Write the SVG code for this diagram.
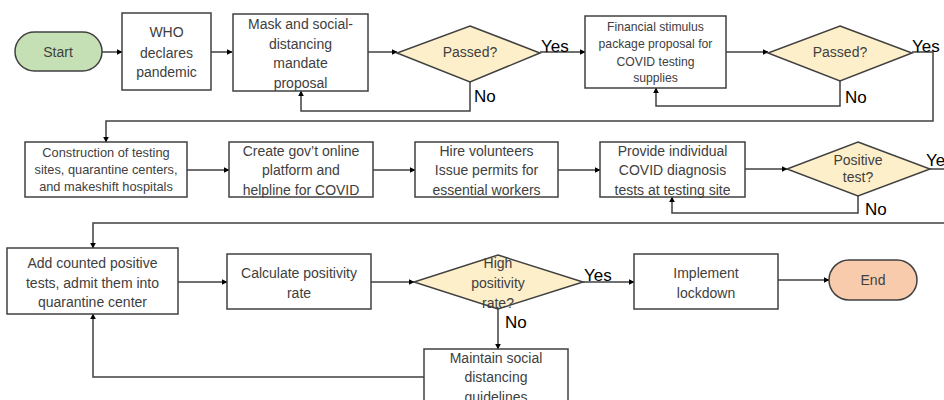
<svg xmlns="http://www.w3.org/2000/svg" width="944" height="400" viewBox="0 0 944 400">
  <defs>
    <marker id="arrow" viewBox="0 0 10 10" refX="9" refY="5" markerWidth="6" markerHeight="6" markerUnits="userSpaceOnUse" orient="auto">
      <path d="M0,0 L10,5 L0,10 z" fill="#000"/>
    </marker>
    <style>
      .box { fill: #ffffff; stroke: #404040; stroke-width: 1.5; }
      .dec { fill: #fdefc9; stroke: #404040; stroke-width: 1.5; }
      .start { fill: #c5e0b4; stroke: #404040; stroke-width: 1.5; }
      .end { fill: #f8cbad; stroke: #404040; stroke-width: 1.5; }
      .t { font-family: "Liberation Sans", Arial, sans-serif; font-size: 14px; fill: #404040; text-anchor: middle; }
      .s { font-size: 12.2px; }
      .s2 { font-size: 12.8px; }
      .lbl { font-family: "Liberation Sans", Arial, sans-serif; font-size: 17px; fill: #000; }
      .c { fill: none; stroke: #404040; stroke-width: 1.5; }
      .ca { fill: none; stroke: #404040; stroke-width: 1.5; marker-end: url(#arrow); }
    </style>
  </defs>

  <!-- connectors -->
  <g id="connectors">
    <line class="ca" x1="102" y1="52" x2="122" y2="52"/>
    <line class="ca" x1="211" y1="52" x2="232" y2="52"/>
    <line class="ca" x1="368" y1="52" x2="397" y2="52"/>
    <polyline class="ca" points="470,82 470,111 301,111 301,91"/>
    <line class="ca" x1="540" y1="52" x2="585" y2="52"/>
    <line class="ca" x1="726" y1="52" x2="768" y2="52"/>
    <polyline class="ca" points="840,81 840,106 656,106 656,88"/>
    <polyline class="ca" points="912,52 933,52 933,121 106,121 106,142"/>

    <line class="ca" x1="187" y1="170" x2="229" y2="170"/>
    <line class="ca" x1="373" y1="170" x2="415" y2="170"/>
    <line class="ca" x1="558" y1="170" x2="600" y2="170"/>
    <line class="ca" x1="745" y1="169" x2="787" y2="169"/>
    <polyline class="ca" points="858,196 858,213 672,213 672,197"/>
    <line class="c" x1="930" y1="169" x2="944" y2="169"/>
    <polyline class="ca" points="944,223 93,223 93,248"/>

    <line class="ca" x1="178" y1="282" x2="227" y2="282"/>
    <line class="ca" x1="371" y1="282" x2="414" y2="282"/>
    <line class="ca" x1="583" y1="282" x2="634" y2="282"/>
    <line class="ca" x1="778" y1="280" x2="829" y2="280"/>
    <line class="ca" x1="498" y1="309" x2="498" y2="349"/>
    <polyline class="ca" points="424,377 93,377 93,314"/>
  </g>

  <!-- branch labels -->
  <g id="labels">
    <text class="lbl" x="541" y="52">Yes</text>
    <text class="lbl" x="474" y="102">No</text>
    <text class="lbl" x="912" y="52">Yes</text>
    <text class="lbl" x="845" y="103">No</text>
    <text class="lbl" x="926" y="166">Yes</text>
    <text class="lbl" x="865" y="215">No</text>
    <text class="lbl" x="584" y="281">Yes</text>
    <text class="lbl" x="505" y="328">No</text>
  </g>

  <g id="start">
    <rect class="start" x="15" y="32" width="87" height="39" rx="19.5"/>
    <text class="t" x="58" y="57">Start</text>
  </g>

  <g id="who">
    <rect class="box" x="122" y="13" width="89" height="77"/>
    <text class="t" x="166.5" y="37">WHO</text>
    <text class="t" x="166.5" y="57.5">declares</text>
    <text class="t" x="166.5" y="77">pandemic</text>
  </g>

  <g id="mask">
    <rect class="box" x="233" y="14" width="135" height="77"/>
    <text class="t" x="300.5" y="29">Mask and social-</text>
    <text class="t" x="300.5" y="48.5">distancing</text>
    <text class="t" x="300.5" y="68">mandate</text>
    <text class="t" x="300.5" y="87.5">proposal</text>
  </g>

  <g id="passed1">
    <polygon class="dec" points="470,26 540,53 470,82 397,53"/>
    <text class="t" x="470" y="57">Passed?</text>
  </g>

  <g id="financial">
    <rect class="box" x="585" y="16" width="141" height="72"/>
    <text class="t s" x="655.5" y="31">Financial stimulus</text>
    <text class="t s" x="655.5" y="48">package proposal for</text>
    <text class="t s" x="655.5" y="66">COVID testing</text>
    <text class="t s" x="655.5" y="82">supplies</text>
  </g>

  <g id="passed2">
    <polygon class="dec" points="840,26 912,53 840,81 768,53"/>
    <text class="t" x="840" y="57">Passed?</text>
  </g>

  <g id="construction">
    <rect class="box" x="25" y="142" width="162" height="55"/>
    <text class="t s2" x="106" y="157">Construction of testing</text>
    <text class="t s2" x="106" y="174">sites, quarantine centers,</text>
    <text class="t s2" x="106" y="191">and makeshift hospitals</text>
  </g>

  <g id="platform">
    <rect class="box" x="229" y="142" width="144" height="55"/>
    <text class="t" x="301" y="156">Create gov’t online</text>
    <text class="t" x="301" y="175">platform and</text>
    <text class="t" x="301" y="195">helpline for COVID</text>
  </g>

  <g id="volunteers">
    <rect class="box" x="415" y="142" width="143" height="55"/>
    <text class="t" x="486.5" y="156">Hire volunteers</text>
    <text class="t" x="486.5" y="175">Issue permits for</text>
    <text class="t" x="486.5" y="195">essential workers</text>
  </g>

  <g id="diagnosis">
    <rect class="box" x="600" y="142" width="145" height="55"/>
    <text class="t" x="672.5" y="156">Provide individual</text>
    <text class="t" x="672.5" y="175">COVID diagnosis</text>
    <text class="t" x="672.5" y="195">tests at testing site</text>
  </g>

  <g id="positive">
    <polygon class="dec" points="858,142 930,169 858,196 787,169"/>
    <text class="t" x="858" y="165">Positive</text>
    <text class="t" x="858" y="182">test?</text>
  </g>

  <g id="admit">
    <rect class="box" x="7" y="248" width="171" height="66"/>
    <text class="t" x="92.5" y="268">Add counted positive</text>
    <text class="t" x="92.5" y="288">tests, admit them into</text>
    <text class="t" x="92.5" y="307">quarantine center</text>
  </g>

  <g id="calculate">
    <rect class="box" x="227" y="254" width="144" height="55"/>
    <text class="t" x="299" y="278">Calculate positivity</text>
    <text class="t" x="299" y="298">rate</text>
  </g>

  <g id="high">
    <polygon class="dec" points="498,255 583,282 498,309 414,282"/>
    <text class="t" x="498" y="268">High</text>
    <text class="t" x="498" y="288">positivity</text>
    <text class="t" x="498" y="308">rate?</text>
  </g>

  <g id="lockdown">
    <rect class="box" x="634" y="254" width="144" height="55"/>
    <text class="t" x="706" y="278">Implement</text>
    <text class="t" x="706" y="298">lockdown</text>
  </g>

  <g id="end">
    <rect class="end" x="829" y="260" width="88" height="40" rx="20"/>
    <text class="t" x="873" y="285">End</text>
  </g>

  <g id="maintain">
    <rect class="box" x="424" y="349" width="144" height="60"/>
    <text class="t" x="496" y="363">Maintain social</text>
    <text class="t" x="496" y="382">distancing</text>
    <text class="t" x="496" y="402">guidelines</text>
  </g>
</svg>
